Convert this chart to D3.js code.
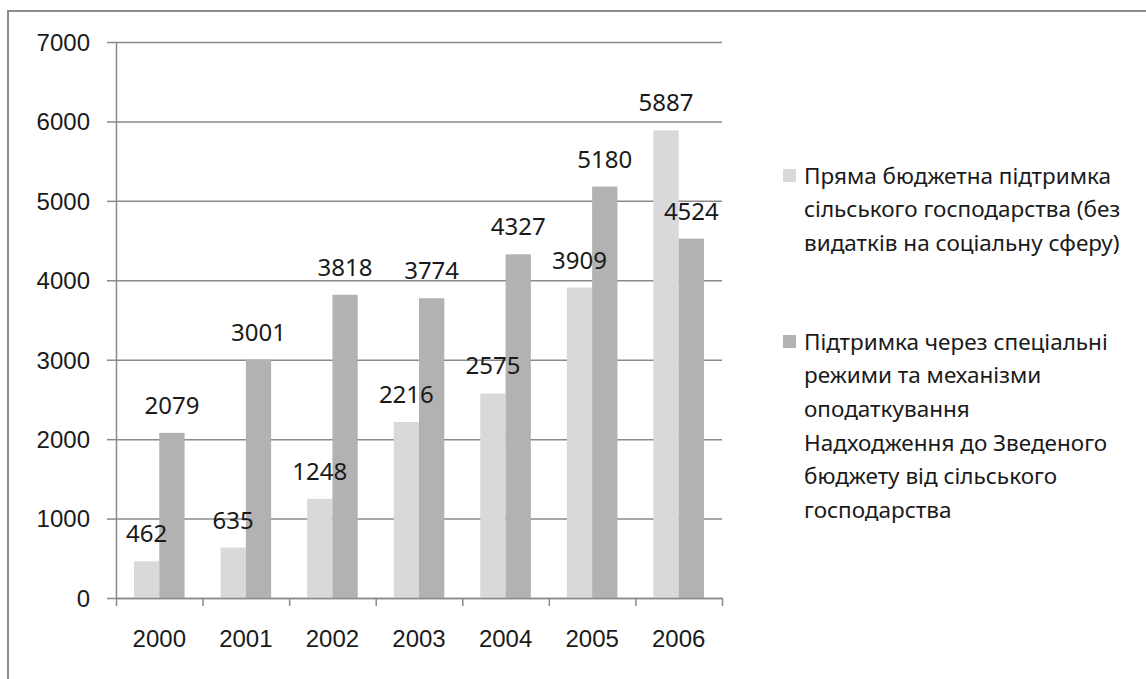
<!DOCTYPE html>
<html>
<head>
<meta charset="utf-8">
<script src="https://cdn.jsdelivr.net/npm/d3@7"></script>
<style>
  body { margin: 0; background: #fff; }
  svg { display: block; font-family: 'Noto Sans', sans-serif; }
</style>
</head>
<body>
<svg id="chart" width="1146" height="679"></svg>
<script>
const years = ['2000', '2001', '2002', '2003', '2004', '2005', '2006']
const directSupport = [462, 635, 1248, 2216, 2575, 3909, 5887]
const taxSupport = [2079, 3001, 3818, 3774, 4327, 5180, 4524]
const yTicks = [0, 1000, 2000, 3000, 4000, 5000, 6000, 7000]
const seriesNames = [
  ['Пряма бюджетна підтримка', 'сільського господарства (без', 'видатків на соціальну сферу)'],
  ['Підтримка через спеціальні', 'режими та механізми', 'оподаткування', 'Надходження до Зведеного', 'бюджету від сільського', 'господарства'],
]
const colors = ['#d9d9d9', '#b2b2b2']

const margin = { top: 42, left: 116 }
const chartSize = { width: 606, height: 556 }

const svg = d3.select('#chart')

// outer frame (runs off the right and bottom edges)
svg.append('rect')
  .attr('x', 8).attr('y', 11)
  .attr('width', 1200).attr('height', 700)
  .attr('fill', 'none')
  .attr('stroke', '#8c8c8c')
  .attr('stroke-width', 2)

const g = svg.append('g').attr('transform', `translate(${margin.left}, ${margin.top})`)

const x = d3.scaleBand().domain(years).range([0, chartSize.width]).padding(0)
const xInner = d3.scaleBand().domain([0, 1]).range([18, x.bandwidth() - 18]).padding(0)
const y = d3.scaleLinear().domain([0, 7000]).range([chartSize.height, 0])

// gridlines
g.append('g')
  .attr('class', 'grid')
  .call(d3.axisLeft(y).tickValues(yTicks).tickSize(-chartSize.width).tickFormat(''))
  .call((s) => s.select('.domain').remove())
  .call((s) => s.selectAll('line').attr('stroke', '#8a8a8a').attr('stroke-width', 1.5))

// y axis
g.append('g')
  .attr('class', 'y-axis')
  .call(d3.axisLeft(y).tickValues(yTicks).tickFormat(d3.format('d')).tickSize(9).tickSizeOuter(0).tickPadding(17))
  .call((s) => s.select('.domain').attr('stroke', '#8a8a8a').attr('stroke-width', 1.5))
  .call((s) => s.selectAll('line').attr('stroke', '#8a8a8a').attr('stroke-width', 1.5))
  .call((s) => s.selectAll('text').style('font-size', '24px').attr('fill', '#1a1a1a').attr('dy', '0.35em'))

// bars
const groups = g.selectAll('.year')
  .data(years)
  .enter()
  .append('g')
  .attr('class', 'year')
  .attr('transform', (d) => `translate(${x(d)}, 0)`)

const bars = groups.selectAll('.bar')
  .data((d, i) => [directSupport[i], taxSupport[i]])
  .enter()

bars.append('rect')
  .attr('class', 'bar')
  .attr('x', (d, j) => xInner(j))
  .attr('y', (d) => y(d))
  .attr('width', xInner.bandwidth())
  .attr('height', (d) => chartSize.height - y(d))
  .style('fill', (d, j) => colors[j])

bars.append('text')
  .attr('x', (d, j) => xInner(j) + xInner.bandwidth() / 2)
  .attr('y', (d) => y(d) - 19)
  .attr('text-anchor', 'middle')
  .style('font-size', '24px')
  .attr('fill', '#1a1a1a')
  .text((d) => d)

// x axis: boundary ticks
const xEdges = d3.scaleLinear().domain([0, years.length]).range([0, chartSize.width])
g.append('g')
  .attr('class', 'x-axis')
  .attr('transform', `translate(0, ${chartSize.height})`)
  .call(d3.axisBottom(xEdges).ticks(years.length).tickSize(8).tickSizeOuter(0).tickFormat(''))
  .call((s) => s.select('.domain').attr('stroke', '#8a8a8a').attr('stroke-width', 1.5))
  .call((s) => s.selectAll('line').attr('stroke', '#8a8a8a').attr('stroke-width', 1.5))

g.append('g')
  .attr('class', 'x-labels')
  .attr('transform', `translate(0, ${chartSize.height})`)
  .call(d3.axisBottom(x).tickSize(0).tickPadding(32))
  .call((s) => s.select('.domain').remove())
  .call((s) => s.selectAll('text').style('font-size', '24px').attr('fill', '#1a1a1a'))

// legend
const legendStarts = [176, 342]
const lineGap = 33.6
const legend = svg.append('g').attr('class', 'legend')
seriesNames.forEach((lines, i) => {
  legend.append('rect')
    .attr('x', 783).attr('y', legendStarts[i] - 7)
    .attr('width', 13).attr('height', 13)
    .attr('fill', colors[i])
  legend.selectAll(`.entry-${i}`)
    .data(lines)
    .enter()
    .append('text')
    .attr('class', `entry-${i}`)
    .attr('x', 804)
    .attr('y', (d, k) => legendStarts[i] + k * lineGap)
    .attr('dy', '0.35em')
    .style('font-size', '22.5px')
    .attr('fill', '#1a1a1a')
    .text((d) => d)
})
</script>
</body>
</html>
